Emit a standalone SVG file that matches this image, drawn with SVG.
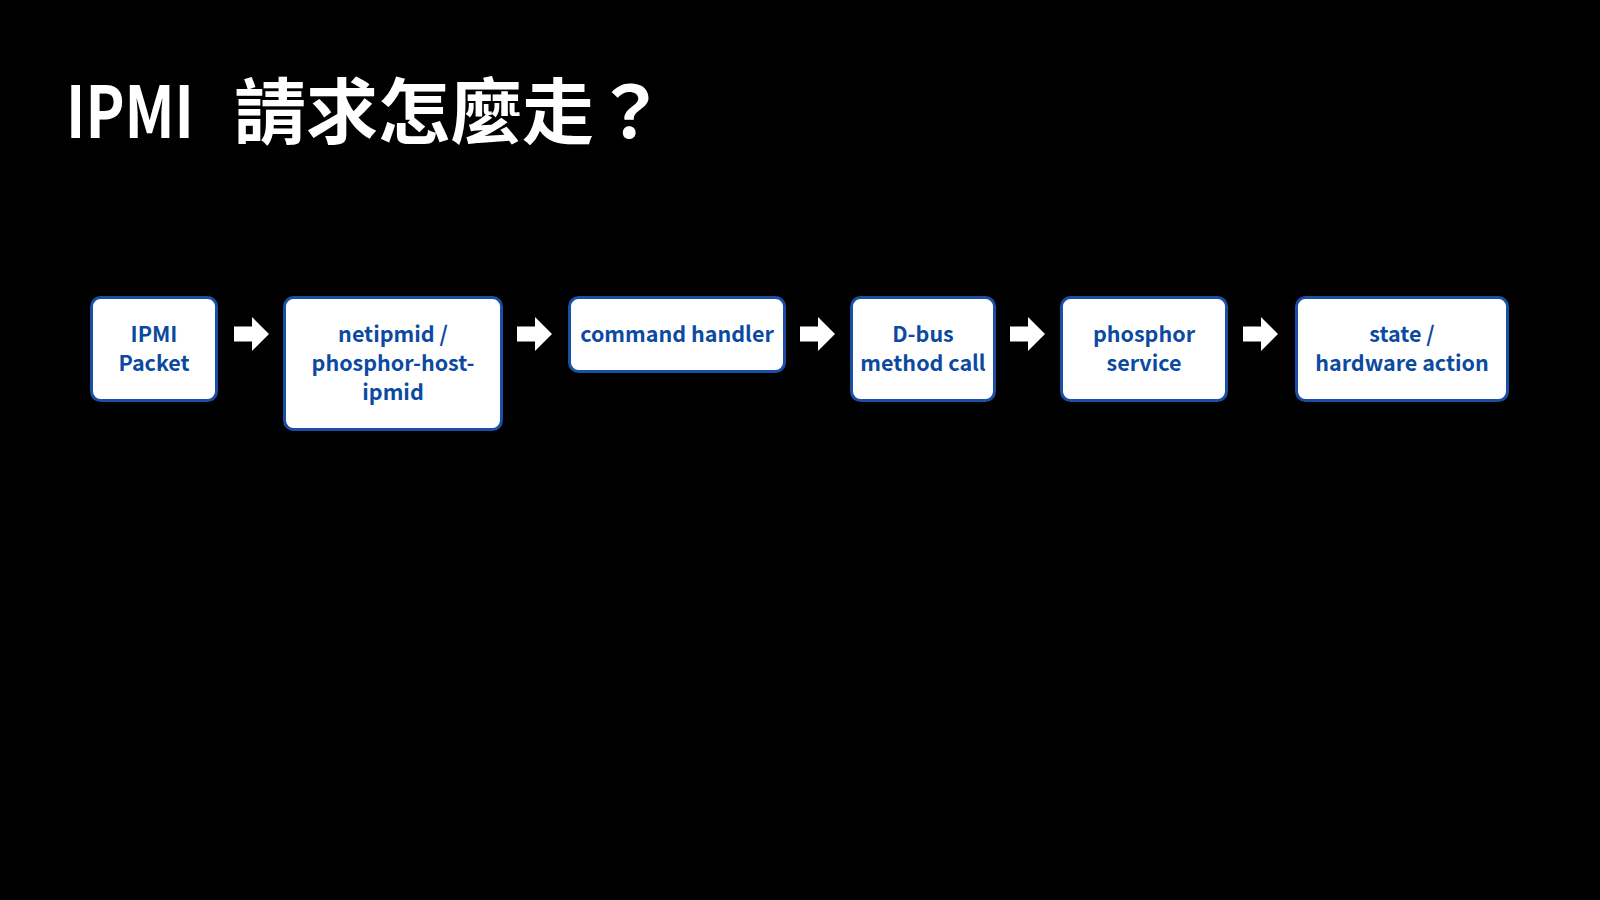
<svg xmlns="http://www.w3.org/2000/svg" width="1600" height="900" viewBox="0 0 1600 900">
<style>
.box{fill:#ffffff;stroke:#1a4fa3;stroke-width:3}
.lbl{font-family:"Noto Sans CJK TC","Noto Sans",sans-serif;font-weight:bold;font-size:21.5px;fill:#0b4aa0;text-anchor:middle}
.title{font-family:"Noto Sans CJK TC","Noto Sans",sans-serif;font-weight:bold;font-size:72px;fill:#ffffff}
.arr{fill:#ffffff}
</style>
<defs>
<path id="arrow" d="M0,-7.5 H18 V-17 L35,0 L18,17 V7.5 H0 Z"/>
</defs>
<rect x="0" y="0" width="1600" height="900" fill="#000000"/>
<g id="title">
<text class="title" x="66" y="138" textLength="128" lengthAdjust="spacingAndGlyphs">IPMI</text>
<text class="title" x="234" y="138">請求怎麼走？</text>
</g>
<g id="connectors">
<use href="#arrow" class="arr" x="234" y="334"/>
<use href="#arrow" class="arr" x="517" y="334"/>
<use href="#arrow" class="arr" x="800" y="334"/>
<use href="#arrow" class="arr" x="1010" y="334"/>
<use href="#arrow" class="arr" x="1243" y="334"/>
</g>
<g id="n1">
<rect class="box" x="91.5" y="297.5" width="125" height="103" rx="9"/>
<text class="lbl" x="154" y="342">IPMI<tspan x="154" y="371">Packet</tspan></text>
</g>
<g id="n2">
<rect class="box" x="284.5" y="297.5" width="217" height="132" rx="9"/>
<text class="lbl" x="393" y="342">netipmid /<tspan x="393" y="371">phosphor-host-</tspan><tspan x="393" y="400">ipmid</tspan></text>
</g>
<g id="n3">
<rect class="box" x="569.5" y="297.5" width="215" height="74" rx="9"/>
<text class="lbl" x="677" y="342">command handler</text>
</g>
<g id="n4">
<rect class="box" x="851.5" y="297.5" width="143" height="103" rx="9"/>
<text class="lbl" x="923" y="342">D-bus<tspan x="923" y="371">method call</tspan></text>
</g>
<g id="n5">
<rect class="box" x="1061.5" y="297.5" width="165" height="103" rx="9"/>
<text class="lbl" x="1144" y="342">phosphor<tspan x="1144" y="371">service</tspan></text>
</g>
<g id="n6">
<rect class="box" x="1296.5" y="297.5" width="211" height="103" rx="9"/>
<text class="lbl" x="1402" y="342">state /<tspan x="1402" y="371">hardware action</tspan></text>
</g>
</svg>
